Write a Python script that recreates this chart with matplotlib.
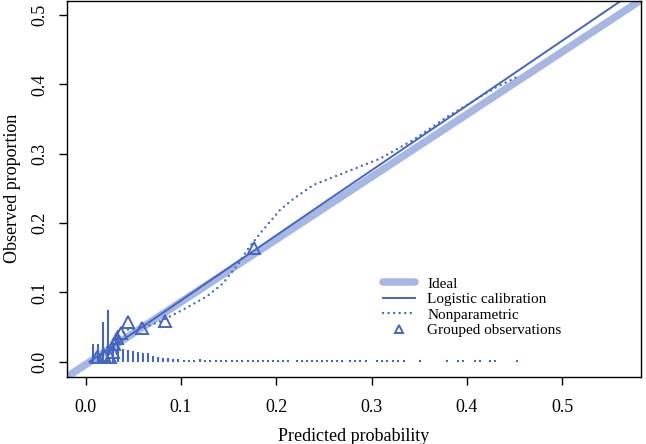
import matplotlib
matplotlib.use('Agg')
import matplotlib.pyplot as plt

plt.rcParams['font.family'] = ['Liberation Serif', 'DejaVu Serif']

blue = '#4466c2'
light = '#a6b7e3'

# ideal line, read where it crosses x = 0 and x = 0.5
ideal_x = [0.0, 0.5]
ideal_y = [-0.004, 0.447]

# logistic calibration curve
logit_x = [0.004, 0.057, 0.255, 0.470, 0.590]
logit_y = [0.000, 0.048, 0.234, 0.435, 0.547]

# nonparametric (loess) curve
np_x = [0.008, 0.026, 0.043, 0.059, 0.078, 0.102, 0.127, 0.144, 0.159, 0.172,
        0.186, 0.204, 0.218, 0.239, 0.274, 0.309, 0.344, 0.379, 0.414, 0.431, 0.456]
np_y = [0.007, 0.024, 0.046, 0.048, 0.058, 0.075, 0.094, 0.113, 0.139, 0.166,
        0.190, 0.219, 0.235, 0.255, 0.274, 0.293, 0.320, 0.353, 0.382, 0.396, 0.413]

# grouped observations
grp_x = [0.0115, 0.0192, 0.0255, 0.0286, 0.0292, 0.0328, 0.037, 0.0439, 0.0591, 0.0832, 0.1771]
grp_y = [0.0068, 0.0097, 0.0068, 0.014, 0.0255, 0.034, 0.0414, 0.0572, 0.0486, 0.0586, 0.1638]

# distribution of predicted probabilities (spike heights)
rug_x = [0.0077, 0.0129, 0.0182, 0.0234, 0.0286, 0.0339, 0.0391, 0.0444, 0.0496, 0.0549,
         0.0601, 0.0654, 0.0706, 0.0758, 0.0811, 0.0863, 0.0916, 0.0969, 0.1031, 0.1084,
         0.1137, 0.1199, 0.1252, 0.1304, 0.1367, 0.1420, 0.1472, 0.1535, 0.1588, 0.1640,
         0.1703, 0.1756, 0.1808, 0.1861, 0.1913, 0.1966, 0.2018, 0.2070, 0.2123, 0.2217,
         0.2270, 0.2322, 0.2375, 0.2427, 0.2480, 0.2532, 0.2585, 0.2637, 0.2690, 0.2773,
         0.2826, 0.2878, 0.2941, 0.3057, 0.3109, 0.3162, 0.3225, 0.3277, 0.3340, 0.3508,
         0.3792, 0.3907, 0.3959, 0.4085, 0.4138, 0.4243, 0.4295, 0.4526]
rug_h = [0.026, 0.026, 0.058, 0.075, 0.029, 0.046, 0.018, 0.017, 0.016, 0.014,
         0.013, 0.012, 0.008, 0.007, 0.005, 0.005, 0.004, 0.004, 0.003, 0.003,
         0.003, 0.004, 0.003, 0.003, 0.003, 0.003, 0.003, 0.003, 0.003, 0.003,
         0.003, 0.002, 0.002, 0.002, 0.002, 0.002, 0.002, 0.002, 0.002, 0.002,
         0.002, 0.002, 0.002, 0.002, 0.002, 0.002, 0.002, 0.002, 0.002, 0.002,
         0.002, 0.002, 0.002, 0.002, 0.002, 0.002, 0.002, 0.002, 0.002, 0.002,
         0.002, 0.002, 0.002, 0.002, 0.002, 0.002, 0.002, 0.002]

ticks = [0.0, 0.1, 0.2, 0.3, 0.4, 0.5]
tick_labels = ['0.0', '0.1', '0.2', '0.3', '0.4', '0.5']

fig = plt.figure(figsize=(6.46, 4.44), dpi=100)
ax = fig.add_axes([0.1033, 0.1516, 0.889, 0.8465])

ax.axline((ideal_x[0], ideal_y[0]), (ideal_x[1], ideal_y[1]), color=light, lw=5.4,
          solid_capstyle='round', label='Ideal')
ax.plot(logit_x, logit_y, color=blue, lw=1.4, label='Logistic calibration')
ax.plot(np_x, np_y, color=blue, lw=1.7, linestyle=(0, (0.05, 2.3)),
        dash_capstyle='round', label='Nonparametric')
ax.plot(grp_x, grp_y, linestyle='none', marker='^', markersize=8, mfc='none',
        mec=blue, mew=1.4, label='Grouped observations')
ax.vlines(rug_x, 0, rug_h, color=blue, lw=1.5)

ax.set_xlim(-0.0199, 0.5827)
ax.set_ylim(-0.0216, 0.5205)
ax.set_xticks(ticks)
ax.set_xticklabels(tick_labels)
ax.set_yticks(ticks)
ax.set_yticklabels(tick_labels, rotation=90, va='center')
ax.tick_params(direction='out', length=6, width=1, labelsize=13)
ax.tick_params(axis='x', pad=10)
ax.tick_params(axis='y', pad=7)
for s in ax.spines.values():
    s.set_linewidth(1.0)

ax.set_xlabel('Predicted probability', fontsize=13, labelpad=9)
ax.set_ylabel('Observed proportion', fontsize=13, labelpad=8)

ax.legend(loc='upper left', bbox_to_anchor=(0.551, 0.265), frameon=False,
          fontsize=11, handlelength=2.1, handletextpad=0.8, labelspacing=0.12,
          borderpad=0, borderaxespad=0, markerscale=0.75)

fig.savefig('out.png', dpi=100)
